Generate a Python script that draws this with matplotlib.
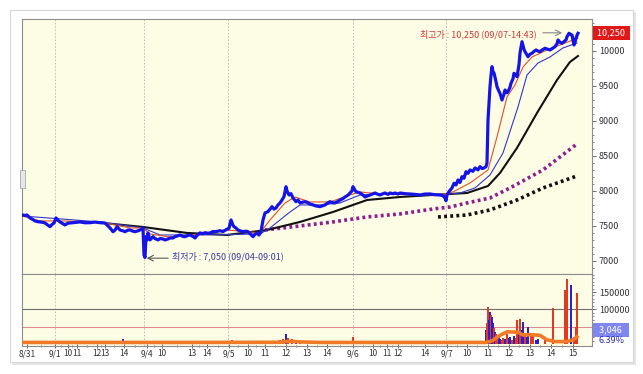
import matplotlib
matplotlib.use('Agg')
import matplotlib.pyplot as plt
from matplotlib.patches import Rectangle

plt.rcParams['font.family'] = ['Noto Sans CJK KR', 'DejaVu Sans']

# ---------------- data (x = bar position, price in KRW) ----------------
price_x = [22, 25, 27, 30, 33, 35, 38, 40, 43, 45, 48, 50, 52, 54, 56, 58, 60, 63, 65, 68,
           70, 75, 80, 85, 90, 95, 100, 105, 108, 110, 113, 115, 117, 120, 123, 125, 128, 130,
           133, 135, 138, 140, 143, 144, 145, 146, 147, 148, 150, 152, 153, 155, 158, 160, 163,
           165, 168, 170, 173, 175, 178, 180, 183, 185, 188, 190, 193, 195, 198, 200, 203, 205,
           208, 210, 213, 215, 218, 220, 223, 226, 229, 231, 233, 234, 236, 238, 240, 243, 246,
           248, 250, 253, 255, 257, 259, 261, 263, 265, 268, 270, 272, 274, 276, 278, 280, 282,
           284, 286, 287, 289, 291, 293, 296, 298, 300, 303, 305, 308, 310, 313, 316, 318, 320,
           323, 325, 328, 330, 333, 335, 338, 340, 343, 345, 348, 350, 352, 353, 355, 356, 358,
           360, 363, 365, 368, 370, 373, 375, 378, 380, 383, 385, 388, 390, 393, 395, 398, 400,
           405, 410, 415, 420, 425, 430, 435, 440, 443, 445, 446, 447, 449, 452, 454, 456, 458,
           460, 462, 464, 466, 468, 470, 473, 475, 478, 480, 482, 484, 486, 487, 488, 489, 490,
           491, 492, 493, 494, 496, 497, 499, 500, 502, 504, 505, 507, 508, 510, 511, 513, 514,
           516, 517, 519, 520, 521, 522, 524, 525, 527, 528, 530, 532, 534, 536, 538, 540, 542,
           545, 548, 550, 553, 555, 557, 558, 560, 562, 564, 566, 567, 569, 571, 572, 573, 574,
           575, 576, 577, 578]
price = [7656, 7650, 7656, 7614, 7590, 7571, 7560, 7557, 7550, 7542, 7510, 7489, 7520, 7542,
         7614, 7580, 7557, 7530, 7514, 7540, 7542, 7550, 7557, 7545, 7546, 7555, 7546, 7542,
         7500, 7471, 7418, 7440, 7489, 7442, 7430, 7418, 7440, 7442, 7425, 7418, 7430, 7442,
         7471, 7086, 7050, 7347, 7300, 7400, 7300, 7330, 7347, 7320, 7300, 7320, 7314, 7300,
         7314, 7328, 7328, 7347, 7360, 7371, 7350, 7347, 7365, 7371, 7350, 7328, 7380, 7400,
         7390, 7404, 7395, 7400, 7420, 7418, 7425, 7432, 7420, 7445, 7467, 7585, 7510, 7489,
         7470, 7442, 7430, 7418, 7425, 7418, 7390, 7347, 7380, 7400, 7370, 7418, 7585, 7685,
         7704, 7740, 7775, 7740, 7756, 7800, 7828, 7870, 7918, 8060, 8000, 7942, 7960, 7899,
         7846, 7870, 7828, 7840, 7846, 7830, 7813, 7800, 7785, 7780, 7775, 7790, 7799, 7830,
         7846, 7830, 7828, 7850, 7870, 7890, 7913, 7940, 7970, 8000, 8060, 8010, 7989, 7980,
         7970, 7940, 7913, 7930, 7942, 7960, 7970, 7950, 7942, 7960, 7970, 7950, 7970, 7960,
         7970, 7955, 7970, 7960, 7956, 7950, 7942, 7955, 7956, 7945, 7942, 7930, 7899, 7860,
         7942, 7990, 8042, 8109, 8085, 8156, 8120, 8203, 8180, 8274, 8250, 8299, 8280, 8327,
         8300, 8346, 8320, 8327, 8346, 8398, 9012, 9250, 9487, 9650, 9773, 9700, 9683, 9560,
         9487, 9420, 9393, 9297, 9380, 9440, 9400, 9416, 9480, 9536, 9600, 9678, 9650, 9630,
         9800, 9968, 10050, 10129, 10020, 9987, 9940, 9915, 9950, 9964, 9990, 10011, 9995,
         9987, 10010, 10035, 10020, 10011, 10040, 10058, 10100, 10154, 10120, 10107, 10130,
         10154, 10200, 10249, 10230, 10225, 10150, 10082, 10120, 10178, 10220, 10249]

ma_red_x = [22, 40, 60, 100, 110, 130, 143, 150, 170, 200, 225, 240, 260, 270, 285, 295, 310,
            330, 350, 360, 380, 440, 453, 470, 488, 497, 507, 515, 523, 532, 547, 560, 573, 578]
ma_red = [7642, 7571, 7571, 7557, 7528, 7471, 7471, 7385, 7342, 7385, 7442, 7428, 7400, 7585,
          7828, 7913, 7842, 7842, 7942, 7985, 7956, 7942, 7985, 8113, 8299, 8770, 9340, 9512,
          9768, 9911, 10011, 10082, 10154, 10182]

ma_blue_x = [22, 100, 143, 160, 200, 260, 270, 290, 300, 320, 340, 360, 380, 440, 460, 475,
             490, 503, 518, 527, 538, 550, 563, 577]
ma_blue = [7642, 7557, 7471, 7371, 7371, 7385, 7471, 7699, 7799, 7799, 7828, 7942, 7956, 7942,
           7970, 8042, 8227, 8541, 9198, 9654, 9825, 9911, 10040, 10111]

ma_black_x = [103, 143, 187, 227, 267, 300, 333, 367, 400, 433, 467, 488, 500, 517, 537, 557,
              570, 578]
ma_black = [7542, 7485, 7400, 7371, 7442, 7557, 7699, 7870, 7913, 7942, 7970, 8070, 8256, 8613,
            9112, 9583, 9840, 9925]

ma_purple_x = [265, 300, 333, 367, 400, 433, 450, 467, 490, 510, 543, 577]
ma_purple = [7442, 7500, 7557, 7628, 7671, 7742, 7770, 7828, 7899, 8042, 8299, 8670]

ma_dot_black_x = [438, 467, 490, 517, 543, 577]
ma_dot_black = [7628, 7656, 7728, 7870, 8042, 8213]

vol_x = [36, 107, 123, 232, 235, 250, 280, 283, 286, 288, 292, 296, 300, 353, 486, 487, 488,
         489, 490, 491, 492, 493, 494, 495, 496, 497, 499, 500, 502, 503, 505, 507, 509, 510,
         512, 514, 516, 517, 519, 520, 522, 523, 525, 527, 528, 531, 533, 536, 538, 545, 553,
         565, 567, 571, 574, 576, 577]
vol = [9000, 6000, 14000, 11000, 9000, 5000, 12000, 14000, 29000, 18000, 14000, 10000, 8000,
       21000, 40000, 60000, 107000, 70000, 93000, 85000, 78000, 60000, 45000, 35000, 30000,
       25000, 20000, 15000, 12000, 18000, 14000, 30000, 16000, 20000, 12000, 22000, 18000,
       69000, 30000, 71000, 40000, 64000, 30000, 20000, 50000, 25000, 25000, 12000, 15000,
       12000, 103000, 156000, 189000, 170000, 20000, 50000, 146000]
vol_up = [1, 1, 0, 1, 0, 1, 1, 1, 0, 1, 1, 0, 1, 1, 0, 1, 1, 0, 0, 1, 0, 0, 1, 0, 1, 1, 0,
          0, 1, 1, 0, 1, 0, 0, 1, 0, 1, 1, 0, 1, 0, 0, 1, 0, 0, 1, 1, 0, 0, 1, 1, 1, 1, 0, 1,
          1, 1]

vol_ma_x = [22, 100, 200, 280, 290, 300, 320, 400, 486, 492, 500, 507, 518, 523, 530, 540, 547,
            555, 567, 573, 577]
vol_ma = [4500, 4500, 4500, 5000, 8000, 6000, 4500, 4500, 4500, 9000, 25000, 35000, 34000,
          26000, 27000, 25000, 12000, 7000, 7000, 12000, 21000]

day_lines = [55, 144, 228, 353, 446]
tick_pos = [27, 55, 68, 77, 97, 105, 124, 147, 162, 192, 207, 229, 248, 265, 286, 307, 327,
            353, 373, 387, 398, 425, 447, 467, 488, 509, 530, 551, 573]
tick_lab = ['8/31', '9/1', '10', '11', '12', '13', '14', '9/4', '10', '13', '14', '9/5', '10',
            '11', '12', '13', '14', '9/6', '10', '11', '12', '14', '9/7', '10', '11', '12',
            '13', '14', '15']
price_ticks = [7000, 7500, 8000, 8500, 9000, 9500, 10000]

# ---------------- figure ----------------
W, H = 643, 374
fig = plt.figure(figsize=(W / 100, H / 100), dpi=100)
fig.patch.set_facecolor('white')

# card with soft shadow (behind the axes)
fig.patches.append(Rectangle((12 / W, 1 - 365 / H), 624 / W, 353 / H, transform=fig.transFigure,
                             facecolor='#e4e4e4', edgecolor='none', zorder=-3))
fig.patches.append(Rectangle((10 / W, 1 - 362 / H), 623 / W, 352 / H, transform=fig.transFigure,
                             facecolor='white', edgecolor='#d6d6d6', lw=0.8, zorder=-2))

bg = '#fdfde6'
ax = fig.add_axes([22 / W, 1 - 274 / H, 570 / W, 255 / H])
axv = fig.add_axes([22 / W, 1 - 346 / H, 570 / W, 72 / H])
for a in (ax, axv):
    a.set_facecolor(bg)
    a.set_xlim(22, 592)
    for s in a.spines.values():
        s.set_color('#8c8c8c')
        s.set_linewidth(0.8)
    for xd in day_lines:
        a.axvline(xd, color='#b5b5b5', ls=(0, (2, 2)), lw=0.6, zorder=1)

# ---- price panel ----
ax.set_ylim(6814, 10453)
ax.plot(ma_purple_x, ma_purple, color='#8e1f8e', lw=2.6, ls=(0, (0.8, 0.9)), zorder=3)
ax.plot(ma_dot_black_x, ma_dot_black, color='#111111', lw=2.6, ls=(0, (0.8, 0.9)), zorder=3)
ax.plot(ma_black_x, ma_black, color='#111111', lw=1.5, zorder=4)
ax.plot(ma_blue_x, ma_blue, color='#3535c8', lw=0.8, zorder=4)
ax.plot(ma_red_x, ma_red, color='#e0502a', lw=0.8, zorder=4)
ax.plot(price_x, price, color='#1414e6', lw=2.3, zorder=5, solid_joinstyle='round')

ax.yaxis.tick_right()
ax.set_yticks(price_ticks)
ax.set_yticks(list(range(6900, 10450, 100)), minor=True)
ax.tick_params(axis='y', which='major', labelsize=6.5, colors='#555555', labelcolor='#333333',
               length=3, width=0.6, pad=2)
ax.tick_params(axis='y', which='minor', length=1.5, width=0.5, colors='#555555')
ax.set_xticks([])

# max / min annotations
ax.text(537, 10239, '최고가 : 10,250 (09/07-14:43)', color='#d03a3a', fontsize=6.5,
        ha='right', va='center', zorder=6)
ax.annotate('', xy=(565, 10256), xytext=(540, 10256),
            arrowprops=dict(arrowstyle='->', color='#888888', lw=0.8), zorder=6)
ax.text(172, 7060, '최저가 : 7,050 (09/04-09:01)', color='#3a3aa0', fontsize=6.5,
        ha='left', va='center', zorder=6)
ax.annotate('', xy=(144, 7040), xytext=(171, 7040),
            arrowprops=dict(arrowstyle='->', color='#444444', lw=0.7), zorder=6)
ax.text(1.006, 10250, ' 10,250 ', transform=ax.get_yaxis_transform(), color='white',
        fontsize=6.5, ha='left', va='center', clip_on=False,
        bbox=dict(boxstyle='square,pad=0.25', facecolor='#e01818', edgecolor='none'))

# ---- volume panel ----
axv.set_ylim(-5800, 202000)
axv.axhline(100000, color='#6e6e6e', lw=0.8, zorder=1)
axv.axhline(50000, color='#e08c8c', lw=0.8, zorder=1)
for xv, v, up in zip(vol_x, vol, vol_up):
    axv.bar(xv, v, width=1.2, color='#e03a20' if up else '#3020c8', zorder=3)
axv.plot(vol_ma_x, vol_ma, color='#f07a28', lw=2.6, zorder=4)

axv.yaxis.tick_right()
axv.set_yticks([50000, 100000, 150000])
axv.set_yticklabels(['', '100000', '150000'])
axv.set_yticks(list(range(10000, 200001, 10000)), minor=True)
axv.tick_params(axis='y', which='major', labelsize=6.5, colors='#555555', labelcolor='#333333',
                length=3, width=0.6, pad=2)
axv.tick_params(axis='y', which='minor', length=1.5, width=0.5, colors='#555555')
axv.text(1.006, 40000, '  3,046  ', transform=axv.get_yaxis_transform(), color='white',
         fontsize=6.5, ha='left', va='center', clip_on=False, zorder=7,
         bbox=dict(boxstyle='square,pad=0.3', facecolor='#7f86f0', edgecolor='none'))
axv.text(1.012, 11500, '6.39%', transform=axv.get_yaxis_transform(), color='#2c2ca8',
         fontsize=6.5, ha='left', va='center', clip_on=False, zorder=7)

axv.set_xticks(tick_pos)
axv.set_xticklabels(tick_lab)
minor = [(a + b) / 2 for a, b in zip(tick_pos[:-1], tick_pos[1:])]
axv.set_xticks(minor, minor=True)
axv.tick_params(axis='x', which='major', labelsize=6, colors='#444444', labelcolor='#333333',
                length=3, width=0.6, direction='inout', pad=1)
axv.tick_params(axis='x', which='minor', length=2, width=0.5, direction='inout', colors='#444444')

# small tab at left edge of price panel
fig.patches.append(Rectangle((20 / W, 1 - 188 / H), 5 / W, 18 / H, transform=fig.transFigure,
                             facecolor='#e6e6e6', edgecolor='#9a9a9a', lw=0.5, zorder=5))

fig.savefig('out.png', dpi=100, facecolor='white')
